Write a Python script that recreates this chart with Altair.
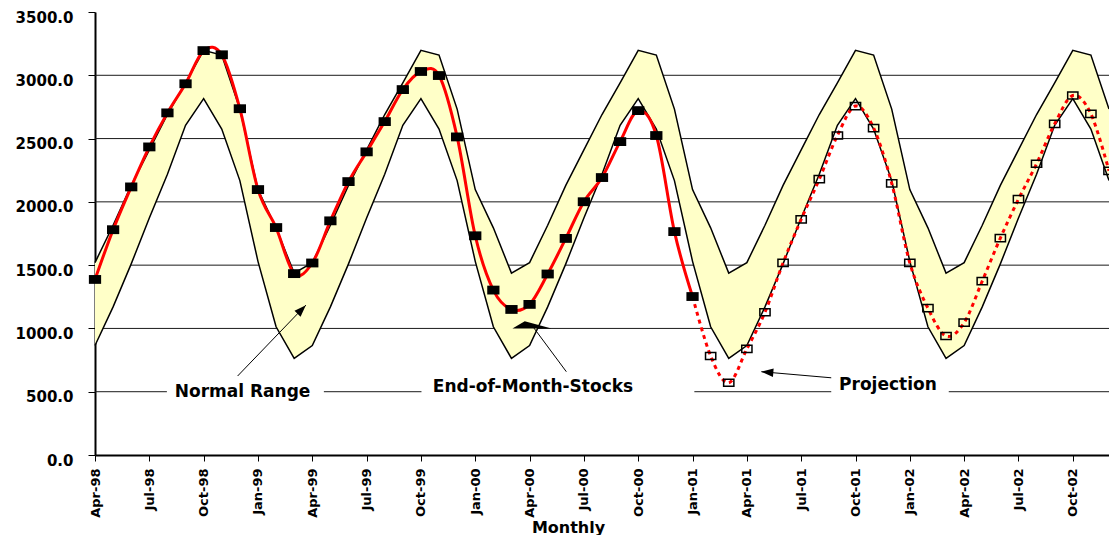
import altair as alt
import pandas as pd

# ---------------- data ----------------
tick_labels = ["Apr-98", "Jul-98", "Oct-98", "Jan-99", "Apr-99", "Jul-99", "Oct-99",
               "Jan-00", "Apr-00", "Jul-00", "Oct-00", "Jan-01", "Apr-01", "Jul-01",
               "Oct-01", "Jan-02", "Apr-02", "Jul-02", "Oct-02"]
tick_positions = [0, 3, 6, 9, 12, 15, 18, 21, 24, 27, 30, 33, 36, 39, 42, 45, 48, 51, 54]
y_ticks = [0, 500, 1000, 1500, 2000, 2500, 3000, 3500]
grid_values = [500, 1000, 1500, 2000, 2500, 3000]

# month index 0 = Apr-98 ... 56 = Dec-02
months = list(range(57))

# End-of-month stocks, Apr-98 .. Jan-01
stocks_actual = [1387, 1780, 2118, 2434, 2703, 2933, 3195, 3162, 2736, 2097, 1797, 1433,
                 1517, 1850, 2160, 2395, 2634, 2887, 3030, 2998, 2513, 1732, 1303, 1150,
                 1190, 1430, 1711, 2001, 2192, 2476, 2721, 2524, 1765, 1252]

# Projection, Jan-01 .. Dec-02
stocks_projection = [1252, 782, 571, 838, 1128, 1518, 1862, 2179, 2524, 2757, 2583, 2146,
                     1518, 1160, 940, 1046, 1374, 1714, 2021, 2301, 2616, 2840, 2695, 2245]

# Normal range (upper / lower), Apr-98 .. Dec-02
normal_upper = [1520, 1815, 2130, 2410, 2690, 2940, 3197, 3160, 2733, 2097, 1795, 1437,
                1520, 1815, 2130, 2410, 2690, 2940, 3197, 3160, 2733, 2097, 1795, 1437,
                1520, 1815, 2130, 2410, 2690, 2940, 3197, 3160, 2733, 2097, 1795, 1437,
                1520, 1815, 2130, 2410, 2690, 2940, 3197, 3160, 2733, 2097, 1795, 1437,
                1520, 1815, 2130, 2410, 2690, 2940, 3197, 3160, 2733]
normal_lower = [865, 1170, 1510, 1872, 2218, 2605, 2816, 2575, 2168, 1530, 1013, 763,
                865, 1170, 1510, 1872, 2218, 2605, 2816, 2575, 2168, 1530, 1013, 763,
                865, 1170, 1510, 1872, 2218, 2605, 2816, 2575, 2168, 1530, 1013, 763,
                865, 1170, 1510, 1872, 2218, 2605, 2816, 2575, 2168, 1530, 1013, 763,
                865, 1170, 1510, 1872, 2218, 2605, 2816, 2575, 2168]

# annotations (data units: month index, value)
ann_text = ["Normal Range", "End-of-Month-Stocks", "Projection"]
ann_text_m = [8.15, 24.19, 43.79]
ann_text_v = [455, 500, 517]
gap_m = [3.97, 18.03, 40.66]
gap_m2 = [12.64, 33.1, 47.15]
arrow_m = [7.875, 26.03, 40.66]
arrow_v = [624, 658, 610]
arrow_m2 = [11.645, 24.19, 36.8]
arrow_v2 = [1184, 1013, 658]

# ---------------- tables ----------------
band = pd.DataFrame({"m": months, "v": normal_lower, "v2": normal_upper})
actual = pd.DataFrame({"m": months[:len(stocks_actual)], "v": stocks_actual})
proj = pd.DataFrame({"m": months[33:33 + len(stocks_projection)], "v": stocks_projection})
proj_markers = proj[proj["m"] > 33]
grid_df = pd.DataFrame({"v": grid_values})
gap_df = pd.DataFrame({"m": gap_m, "m2": gap_m2, "v": [500, 500, 500]})
text_df = pd.DataFrame({"m": ann_text_m, "v": ann_text_v, "t": ann_text})
arrow_df = pd.DataFrame({"m": arrow_m, "v": arrow_v, "m2": arrow_m2, "v2": arrow_v2})

FONT = "DejaVu Sans"
label_expr = "[" + ",".join("'%s'" % s for s in tick_labels) + "][round(datum.value/3)]"

xscale = alt.Scale(domain=[0, 56], nice=False, zero=False)
yscale = alt.Scale(domain=[0, 3500], nice=False, zero=True)

xaxis = alt.Axis(values=tick_positions, labelExpr=label_expr, labelAngle=-90,
                 labelFont=FONT, labelFontWeight="bold", labelFontSize=13, labelColor="black",
                 labelPadding=7, labelFlush=False, labelOverlap=False,
                 tickSize=6, tickColor="black", tickWidth=1,
                 domainColor="black", domainWidth=2, grid=False,
                 title="Monthly", titleFont=FONT, titleFontSize=16, titleFontWeight="bold",
                 titleColor="black", titleX=473, titleY=72, titleBaseline="middle",
                 titleAlign="center")
yaxis = alt.Axis(values=y_ticks, format=".1f", labelFont=FONT, labelFontWeight="bold",
                 labelFontSize=15, labelColor="black", labelPadding=15, labelOffset=5,
                 labelFlush=False, tickSize=7, tickColor="black", tickWidth=1,
                 domainColor="black", domainWidth=2, grid=False, title=None)


def X(field="m"):
    return alt.X(field + ":Q", scale=xscale, axis=xaxis)


def Y(field="v"):
    return alt.Y(field + ":Q", scale=yscale, axis=yaxis)


grid = alt.Chart(grid_df).mark_rule(color="#1a1a1a", strokeWidth=1).encode(y=Y())
gaps = alt.Chart(gap_df).mark_rule(color="white", strokeWidth=5).encode(
    x=X(), x2="m2:Q", y=Y())

band_area = alt.Chart(band).mark_area(color="#FFFFC8", opacity=1, interpolate="linear").encode(
    x=X(), y=Y("v"), y2="v2:Q")
band_low = alt.Chart(band).mark_line(color="black", strokeWidth=1.5).encode(x=X(), y=Y("v"))
band_up = alt.Chart(band).mark_line(color="black", strokeWidth=1.5).encode(x=X(), y=Y("v2"))

line_actual = alt.Chart(actual).mark_line(color="#FF0000", strokeWidth=3,
                                          interpolate="cardinal").encode(x=X(), y=Y())
line_proj = alt.Chart(proj).mark_line(color="#FF0000", strokeWidth=3, strokeDash=[4, 4],
                                      strokeCap="butt", interpolate="cardinal").encode(x=X(), y=Y())

filled_rect = "M-1,-0.72L1,-0.72L1,0.72L-1,0.72Z"
hollow_rect = "M-1,-0.7L1,-0.7L1,0.7L-1,0.7Z"
pts_actual = alt.Chart(actual).mark_point(shape=filled_rect, size=150, filled=True,
                                          color="black", opacity=1).encode(x=X(), y=Y())
pts_proj = alt.Chart(proj_markers).mark_point(shape=hollow_rect, size=105, filled=False,
                                              color="black", strokeWidth=1.5,
                                              opacity=1).encode(x=X(), y=Y())

texts = alt.Chart(text_df).mark_text(font=FONT, fontWeight="bold", fontSize=17, color="black",
                                     align="center", baseline="alphabetic").encode(
    x=X(), y=Y(), text="t:N")

arrows = alt.Chart(arrow_df).mark_rule(color="black", strokeWidth=1).encode(
    x=X(), y=Y(), x2="m2:Q", y2="v2:Q")

head_shape = "M0,0L-0.7,2L0.7,2Z"
head1 = alt.Chart(arrow_df.iloc[[0]]).mark_point(shape=head_shape, size=144, filled=True,
                                                 color="black", opacity=1, angle=44).encode(
    x=X("m2"), y=Y("v2"))
head3 = alt.Chart(arrow_df.iloc[[2]]).mark_point(shape=head_shape, size=144, filled=True,
                                                 color="black", opacity=1, angle=275).encode(
    x=X("m2"), y=Y("v2"))
wedge_df = pd.DataFrame({"m": [24.01], "v": [1010]})
wedge = alt.Chart(wedge_df).mark_point(shape="M-1.73,0.13L-0.5,-0.6L2.17,0.13Z", size=400,
                                       filled=True, color="black", opacity=1).encode(
    x=X(), y=Y())

chart = alt.layer(
    grid, gaps, band_area, band_low, band_up, line_actual, line_proj,
    pts_actual, pts_proj, arrows, head1, head3, wedge, texts
).properties(
    width=1014, height=443,
    autosize=alt.AutoSizeParams(type="none"),
    padding={"left": 95, "top": 12, "right": 0, "bottom": 80},
    background="white",
).configure_view(stroke="transparent")

chart.save("out.html", embed_options={"renderer": "svg", "actions": False})
